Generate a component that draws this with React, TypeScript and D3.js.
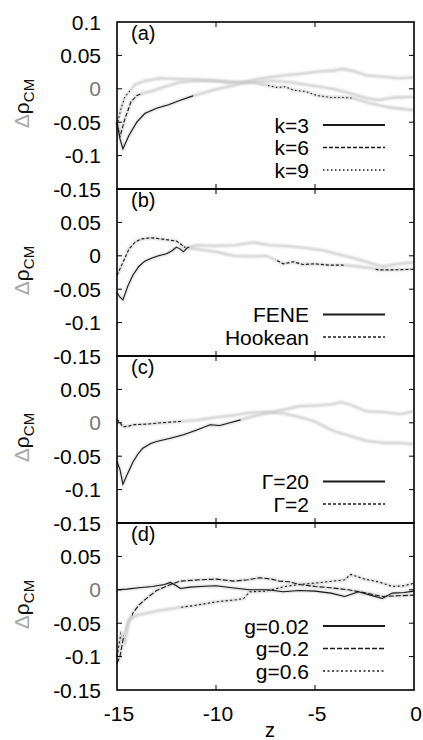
import * as d3 from 'd3';

// z grid & y ticks
const zTicks = [-15, -10, -5, 0];
const yTicks = [0.1, 0.05, 0, -0.05, -0.1, -0.15];

// panel (a): spring constant k
const k3 = [[-15, -0.05], [-14.85, -0.075], [-14.7, -0.09], [-14.4, -0.07], [-14.0, -0.05], [-13.6, -0.037], [-13.0, -0.029], [-12.4, -0.024], [-11.8, -0.017], [-11.2, -0.011], [-10.5, -0.005], [-9.9, 0.0], [-9.0, 0.006], [-8.3, 0.012], [-7.4, 0.017], [-6.5, 0.02], [-5.5, 0.023], [-4.8, 0.026], [-4.1, 0.027], [-3.6, 0.03], [-3.0, 0.026], [-2.4, 0.02], [-1.5, 0.018], [-0.8, 0.016], [0, 0.017]];
const k6 = [[-15, -0.05], [-14.85, -0.072], [-14.6, -0.045], [-14.3, -0.02], [-14.0, -0.01], [-13.6, -0.006], [-13.2, -0.003], [-12.5, 0.004], [-11.8, 0.01], [-11, 0.012], [-10, 0.012], [-9, 0.009], [-8, 0.01], [-7.2, 0.012], [-6.3, 0.01], [-5.2, 0.005], [-4.1, 0.0], [-3.2, -0.007], [-2.4, -0.014], [-1.8, -0.017], [-1.0, -0.013], [0, -0.012]];
const k9 = [[-15, -0.055], [-14.8, -0.03], [-14.6, -0.012], [-14.4, -0.005], [-14.1, 0.006], [-13.6, 0.012], [-12.8, 0.016], [-12, 0.015], [-11, 0.014], [-10, 0.012], [-9, 0.01], [-8.2, 0.01], [-7.4, 0.005], [-6.9, 0.002], [-6.5, 0.003], [-6.1, -0.002], [-5.5, -0.004], [-4.9, -0.01], [-4.2, -0.013], [-3.5, -0.013], [-3.1, -0.014], [-2.2, -0.022], [-1.2, -0.028], [0, -0.032]];

// panel (b): spring type
const fene = [[-15, -0.055], [-14.85, -0.062], [-14.7, -0.066], [-14.45, -0.045], [-14.2, -0.029], [-13.9, -0.016], [-13.6, -0.008], [-13.2, -0.003], [-12.9, 0.0], [-12.5, 0.003], [-12.2, 0.008], [-12.0, 0.013], [-11.8, 0.01], [-11.65, 0.006], [-11.45, 0.012], [-11.0, 0.016], [-10.0, 0.015], [-9.0, 0.016], [-8.1, 0.02], [-7.3, 0.016], [-6.5, 0.015], [-5.5, 0.012], [-4.6, 0.008], [-3.8, 0.002], [-3.0, -0.004], [-2.4, -0.009], [-1.6, -0.016], [-0.8, -0.012], [0, -0.01]];
const hookean = [[-15, -0.029], [-14.7, -0.01], [-14.4, 0.01], [-14.1, 0.02], [-13.8, 0.025], [-13.3, 0.027], [-12.7, 0.025], [-12.0, 0.022], [-11.8, 0.018], [-11.6, 0.013], [-11.0, 0.01], [-10.0, 0.006], [-9.1, 0.0], [-8.2, -0.001], [-7.5, 0.0], [-7.0, -0.006], [-6.6, -0.012], [-6.1, -0.009], [-5.6, -0.013], [-5.0, -0.012], [-4.3, -0.014], [-3.6, -0.014], [-2.8, -0.016], [-2.2, -0.018], [-1.8, -0.021], [-1.0, -0.021], [0, -0.02]];

// panel (c): friction Gamma
const gam20 = [[-15, -0.058], [-14.85, -0.07], [-14.7, -0.092], [-14.45, -0.075], [-14.2, -0.059], [-13.95, -0.047], [-13.7, -0.038], [-13.3, -0.031], [-13.0, -0.028], [-12.3, -0.023], [-11.65, -0.018], [-11, -0.011], [-10.3, -0.003], [-9.8, -0.004], [-9.3, 0.0], [-8.8, 0.004], [-8.1, 0.01], [-7.4, 0.015], [-6.5, 0.02], [-5.8, 0.025], [-4.8, 0.026], [-4.1, 0.028], [-3.7, 0.031], [-3.2, 0.027], [-2.4, 0.017], [-1.5, 0.016], [-0.7, 0.013], [0, 0.017]];
const gam2 = [[-15, 0.005], [-14.85, 0.0], [-14.7, -0.006], [-14.4, -0.005], [-14.2, -0.003], [-13.5, -0.002], [-12.8, 0.0], [-11.8, 0.002], [-11, 0.004], [-10, 0.008], [-9.1, 0.011], [-8.4, 0.015], [-7.5, 0.016], [-6.6, 0.014], [-5.8, 0.009], [-5.0, 0.002], [-4.5, -0.006], [-4.0, -0.013], [-3.3, -0.019], [-2.4, -0.027], [-1.5, -0.03], [-0.8, -0.03], [0, -0.032]];

// panel (d): gravity g
const g002 = [[-15, 0.0], [-14.5, 0.001], [-13.9, 0.003], [-13.2, 0.005], [-12.6, 0.008], [-12.3, 0.011], [-12.0, 0.006], [-11.8, 0.002], [-11.3, 0.004], [-10.8, 0.005], [-10, 0.006], [-9.2, 0.003], [-8.3, 0.0], [-7.4, 0.0], [-6.6, -0.003], [-5.8, -0.001], [-5.0, -0.002], [-4.2, -0.005], [-3.5, -0.01], [-2.8, -0.003], [-2.2, -0.008], [-1.6, -0.013], [-1.1, -0.005], [-0.5, -0.004], [0, -0.002]];
const g02 = [[-15, -0.11], [-14.85, -0.1], [-14.7, -0.075], [-14.45, -0.05], [-14.2, -0.035], [-13.9, -0.023], [-13.6, -0.015], [-13.0, -0.001], [-12.3, 0.008], [-11.8, 0.013], [-10.8, 0.015], [-10, 0.016], [-9.1, 0.013], [-8.4, 0.015], [-7.8, 0.018], [-7.2, 0.016], [-6.8, 0.013], [-6.3, 0.012], [-5.8, 0.008], [-5.0, 0.005], [-4.2, 0.003], [-3.3, 0.0], [-2.4, -0.005], [-1.6, -0.01], [-0.8, -0.009], [0, -0.008]];
const g06 = [[-15, -0.1], [-14.8, -0.065], [-14.6, -0.08], [-14.4, -0.045], [-14, -0.038], [-13, -0.032], [-12, -0.027], [-11.2, -0.024], [-10, -0.018], [-9, -0.015], [-8.6, -0.013], [-8.3, -0.003], [-7.5, -0.002], [-6.5, 0.005], [-5.8, 0.008], [-5, 0.01], [-4.1, 0.013], [-3.5, 0.015], [-3.2, 0.023], [-2.5, 0.016], [-1.8, 0.012], [-1.1, 0.005], [-0.5, 0.006], [0, 0.01]];

// z ranges where the printed curve is still crisp (rest is washed out in the scan)
const sharpK3 = [[-15, -11.2]];
const sharpK6 = [[-15, -13.8]];
const sharpK9 = [[-15, -14.4], [-7.4, -3.1]];
const sharpFene = [[-15, -11.4]];
const sharpHookean = [[-15, -11.6], [-6.9, -3.6], [-1.9, 0]];
const sharpGam20 = [[-15, -8.8]];
const sharpGam2 = [[-15, -11.8]];
const sharpG002 = [[-15, 0]];
const sharpG02 = [[-15, -14.7], [-14.2, 0]];
const sharpG06 = [[-15, -14.85], [-11.8, 0]];

const panels = [
    {
        tag: '(a)',
        series: [
            { name: 'k=3', data: k3, sharp: sharpK3, dash: null },
            { name: 'k=6', data: k6, sharp: sharpK6, dash: '4,2' },
            { name: 'k=9', data: k9, sharp: sharpK9, dash: '1.5,2.5' },
        ],
    },
    {
        tag: '(b)',
        series: [
            { name: 'FENE', data: fene, sharp: sharpFene, dash: null },
            { name: 'Hookean', data: hookean, sharp: sharpHookean, dash: '3,2' },
        ],
    },
    {
        tag: '(c)',
        series: [
            { name: 'Γ=20', data: gam20, sharp: sharpGam20, dash: null },
            { name: 'Γ=2', data: gam2, sharp: sharpGam2, dash: '3,2' },
        ],
    },
    {
        tag: '(d)',
        series: [
            { name: 'g=0.02', data: g002, sharp: sharpG002, dash: null },
            { name: 'g=0.2', data: g02, sharp: sharpG02, dash: '5,2' },
            { name: 'g=0.6', data: g06, sharp: sharpG06, dash: '2,2.5' },
        ],
    },
];

const W = 423;
const H = 740;
const LEFT = 117;
const RIGHT = 414;
const TOP = 22;
const PANEL_H = 167;
const FONT = '"Liberation Sans", Arial, Helvetica, sans-serif';

export default function App() {
    const x = d3.scaleLinear().domain([-15, 0]).range([LEFT, RIGHT]);

    return (
        <svg
            width={W}
            height={H}
            style={{ position: 'absolute', left: 0, top: 0, background: '#fff' }}
            fontFamily={FONT}
        >
            <defs>
                <filter id="wash" x="-5%" y="-50%" width="110%" height="200%">
                    <feGaussianBlur stdDeviation="0.9" />
                </filter>
                {panels.map((p, pi) => {
                    const top = TOP + pi * PANEL_H;
                    return p.series.map((s, si) => (
                        <clipPath key={`c${pi}-${si}`} id={`sharp-${pi}-${si}`}>
                            {s.sharp.map(([a, b], ri) => (
                                <rect
                                    key={ri}
                                    x={x(a) - 1}
                                    y={top}
                                    width={x(b) - x(a) + 2}
                                    height={PANEL_H}
                                />
                            ))}
                        </clipPath>
                    ));
                })}
            </defs>

            {panels.map((p, pi) => {
                const top = TOP + pi * PANEL_H;
                const y = d3.scaleLinear().domain([-0.15, 0.1]).range([top + PANEL_H, top]);
                const line = d3
                    .line<number[]>()
                    .x((d) => x(d[0]))
                    .y((d) => y(d[1]));
                const n = p.series.length;
                const labelTicks = pi === 0 ? yTicks : yTicks.slice(1);
                return (
                    <g key={p.tag}>
                        {/* washed-out underlay */}
                        {p.series.map((s, si) => (
                            <path
                                key={`w${si}`}
                                d={line(s.data) || ''}
                                fill="none"
                                stroke="#c9c9c9"
                                strokeWidth={2.3}
                                filter="url(#wash)"
                            />
                        ))}
                        {/* crisp parts */}
                        {p.series.map((s, si) => (
                            <path
                                key={`s${si}`}
                                d={line(s.data) || ''}
                                fill="none"
                                stroke="#1a1a1a"
                                strokeWidth={1.1}
                                strokeDasharray={s.dash || undefined}
                                clipPath={`url(#sharp-${pi}-${si})`}
                            />
                        ))}

                        {/* ticks */}
                        {yTicks.slice(1, 5).map((t) => (
                            <g key={`yt${t}`} stroke="#000" strokeWidth={1}>
                                <line x1={LEFT} x2={LEFT + 5} y1={y(t)} y2={y(t)} />
                                <line x1={RIGHT - 5} x2={RIGHT} y1={y(t)} y2={y(t)} />
                            </g>
                        ))}
                        {zTicks.slice(1, 3).map((t) => (
                            <g key={`xt${t}`} stroke="#000" strokeWidth={1}>
                                <line x1={x(t)} x2={x(t)} y1={top} y2={top + 5} />
                                <line x1={x(t)} x2={x(t)} y1={top + PANEL_H - 5} y2={top + PANEL_H} />
                            </g>
                        ))}

                        <rect
                            x={LEFT}
                            y={top}
                            width={RIGHT - LEFT}
                            height={PANEL_H}
                            fill="none"
                            stroke="#000"
                            strokeWidth={1.6}
                        />

                        {labelTicks.map((t) => (
                            <text
                                key={`yl${t}`}
                                x={101}
                                y={y(t)}
                                dy="0.36em"
                                textAnchor="end"
                                fontSize={21}
                                fill={t === 0 && pi !== 1 ? '#777' : '#000'}
                            >
                                {t === 0 ? '0' : String(t)}
                            </text>
                        ))}

                        <text x={131} y={top + 18} fontSize={20} fill="#000">
                            {p.tag}
                        </text>

                        <text
                            transform={`translate(29,${top + PANEL_H / 2 - 2}) rotate(-90)`}
                            textAnchor="middle"
                            fontSize={21}
                        >
                            <tspan fill="#a8a8a8">Δ</tspan>
                            <tspan fill="#111">ρ</tspan>
                            <tspan fill="#111" fontSize={15} dy={5}>
                                CM
                            </tspan>
                        </text>

                        {p.series.map((s, si) => {
                            const ly = top + 148 - (n - 1 - si) * 22.5;
                            return (
                                <g key={`lg${si}`}>
                                    <text
                                        x={309}
                                        y={ly}
                                        dy="0.36em"
                                        textAnchor="end"
                                        fontSize={21}
                                        fill="#000"
                                    >
                                        {s.name}
                                    </text>
                                    <line
                                        x1={323}
                                        x2={385}
                                        y1={ly}
                                        y2={ly}
                                        stroke="#1a1a1a"
                                        strokeWidth={s.dash ? 1.3 : 2}
                                        strokeDasharray={s.dash || undefined}
                                    />
                                </g>
                            );
                        })}
                    </g>
                );
            })}

            {zTicks.map((t) => (
                <text
                    key={`zl${t}`}
                    x={x(t) + 2}
                    y={721}
                    textAnchor="middle"
                    fontSize={21}
                    fill="#000"
                >
                    {String(t)}
                </text>
            ))}
            <text x={270} y={737} textAnchor="middle" fontSize={20} fill="#000">
                z
            </text>
        </svg>
    );
}
